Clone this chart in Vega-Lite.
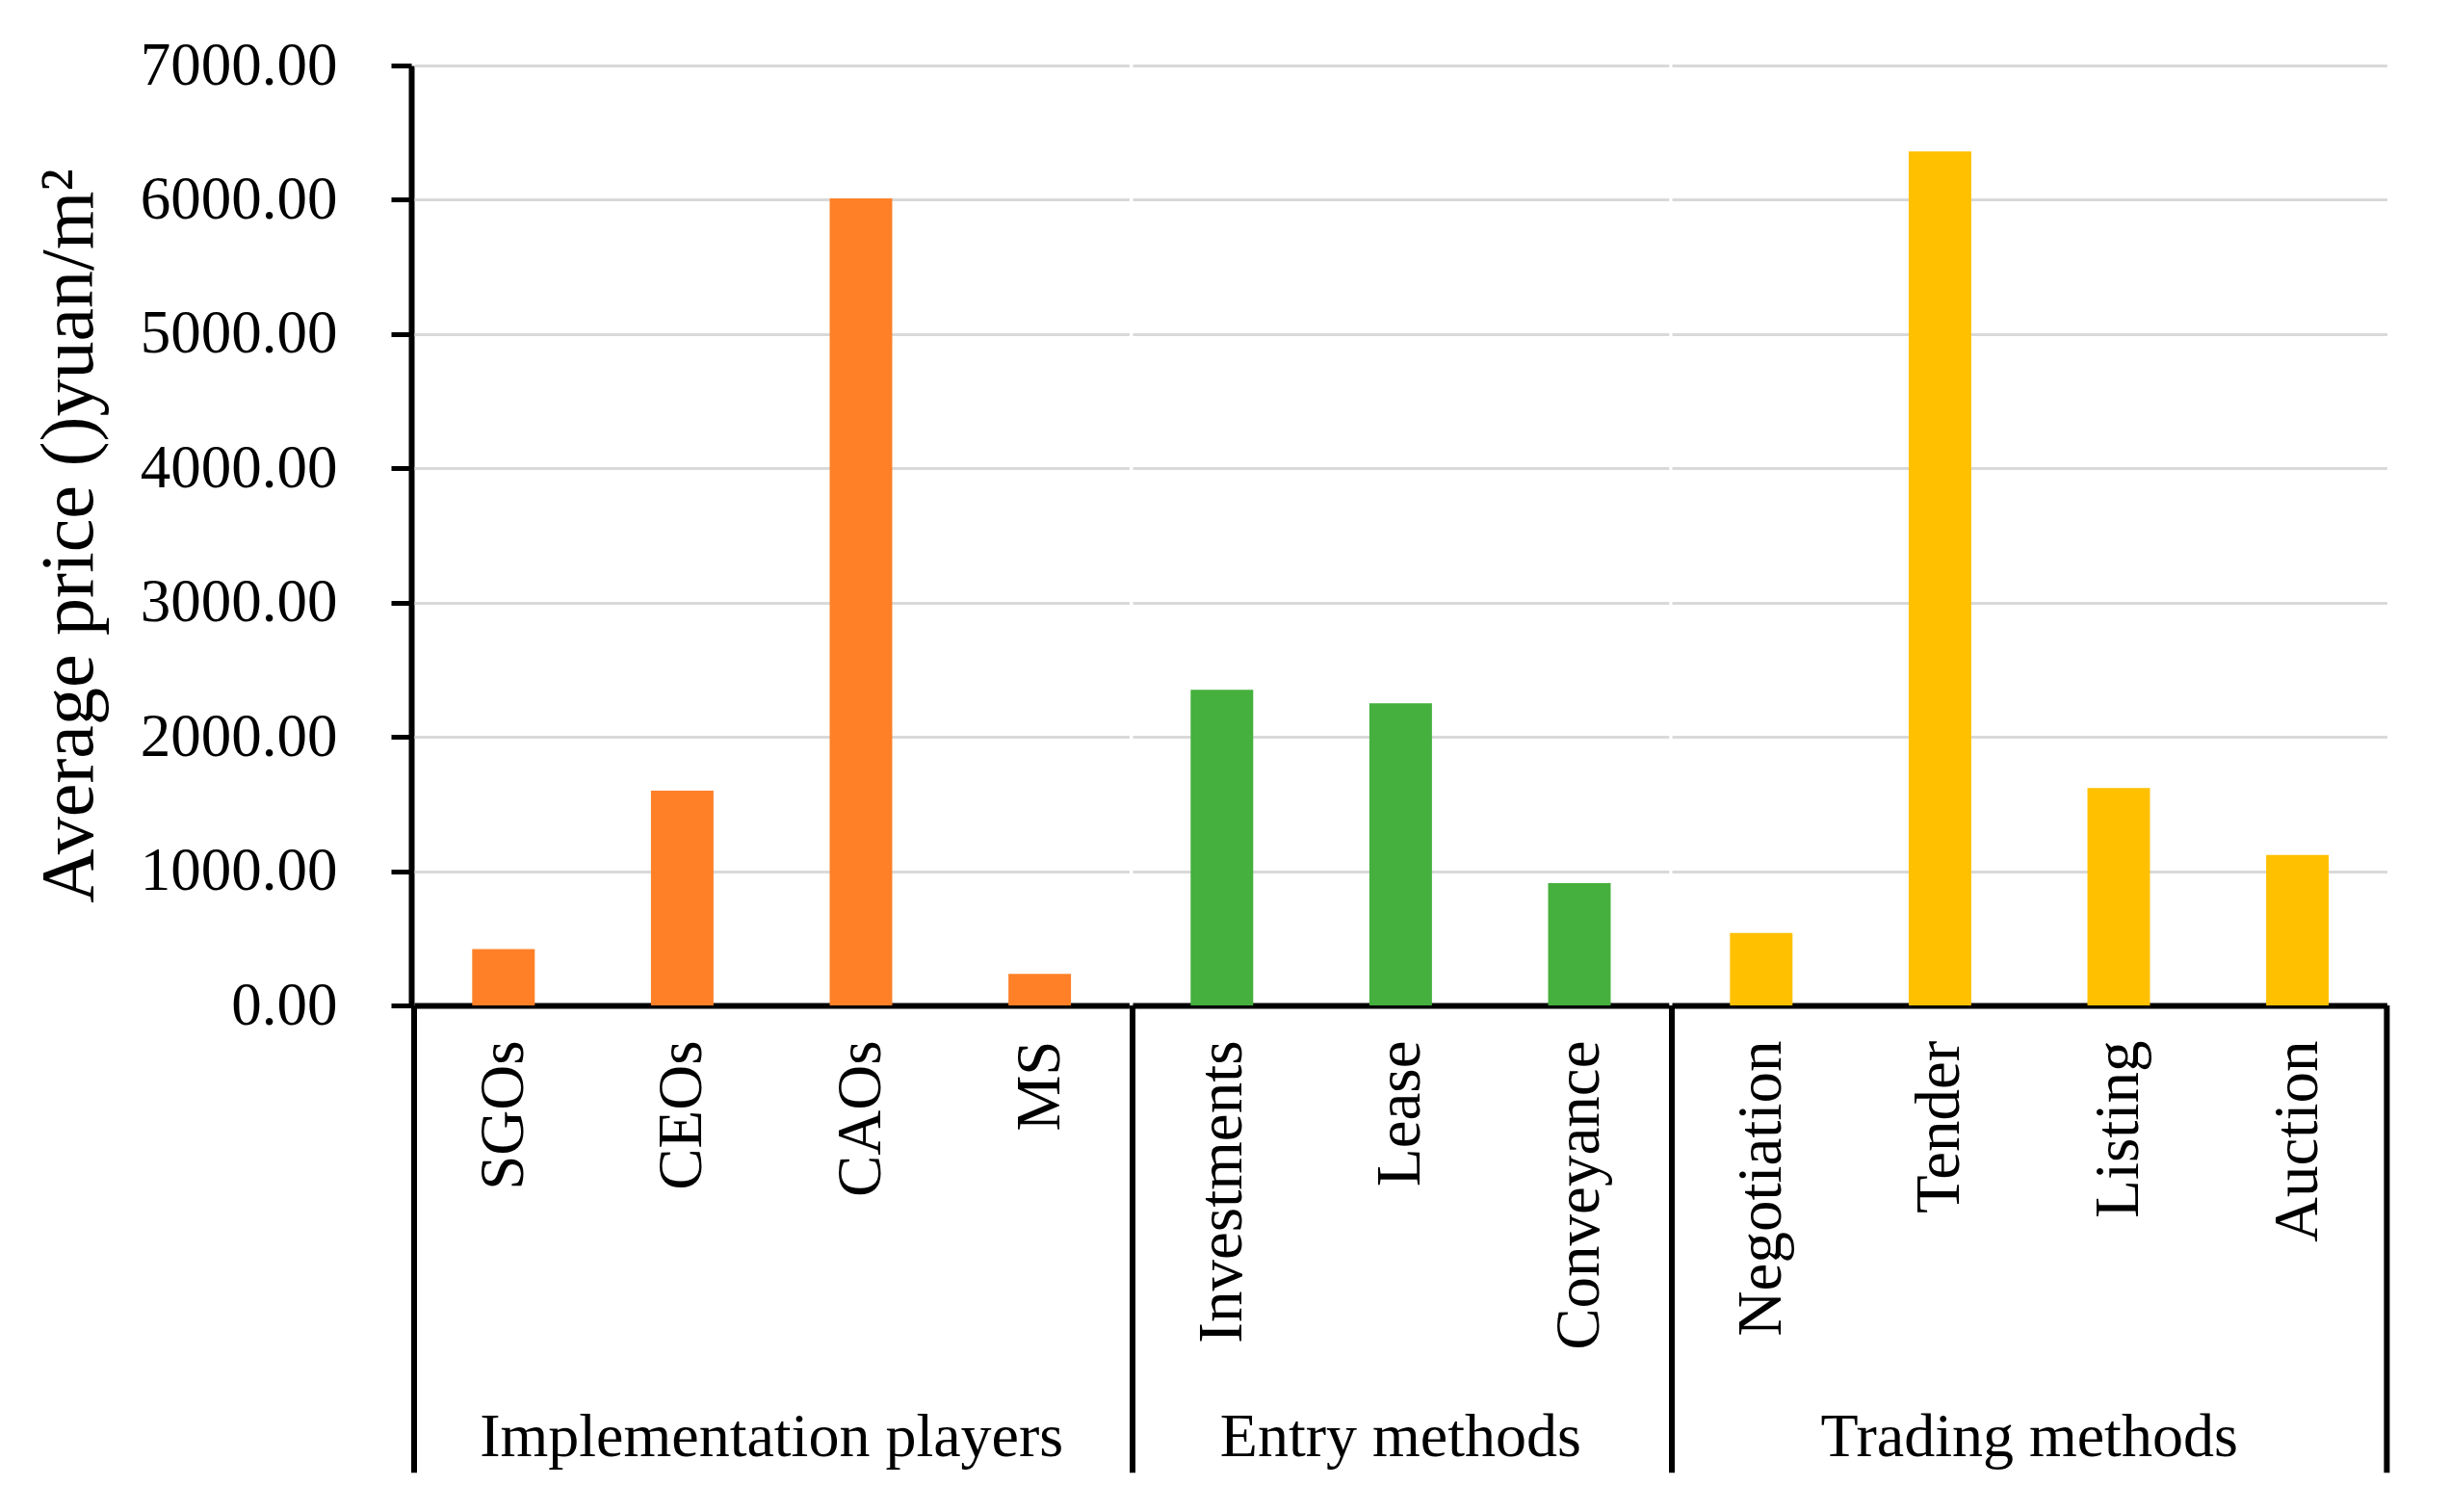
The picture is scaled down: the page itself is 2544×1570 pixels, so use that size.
{
  "$schema": "https://vega.github.io/schema/vega-lite/v6.json",
  "padding": {"left": 33, "top": 37, "right": 10, "bottom": 10},
  "background": "white",
  "data": {
    "values": [
      {"group": "Implementation players", "category": "SGOs", "price": 420},
      {"group": "Implementation players", "category": "CEOs", "price": 1600},
      {"group": "Implementation players", "category": "CAOs", "price": 6010},
      {"group": "Implementation players", "category": "MS", "price": 235},
      {"group": "Entry methods", "category": "Investments", "price": 2350},
      {"group": "Entry methods", "category": "Lease", "price": 2250},
      {"group": "Entry methods", "category": "Conveyance", "price": 910},
      {"group": "Trading methods", "category": "Negotiation", "price": 540},
      {"group": "Trading methods", "category": "Tender", "price": 6360},
      {"group": "Trading methods", "category": "Listing", "price": 1620},
      {"group": "Trading methods", "category": "Auction", "price": 1120}
    ]
  },
  "facet": {
    "column": {
      "field": "group",
      "type": "nominal",
      "sort": ["Implementation players", "Entry methods", "Trading methods"],
      "header": {
        "title": null,
        "labelOrient": "bottom",
        "labelFont": "Liberation Serif",
        "labelFontSize": 64,
        "labelColor": "black",
        "labelPadding": -72
      }
    }
  },
  "spacing": 0,
  "resolve": {"scale": {"x": "independent"}},
  "spec": {
    "width": {"step": 185.6},
    "height": 976,
    "layer": [
      {
        "mark": {"type": "bar", "width": {"band": 0.35}},
        "encoding": {
          "x": {
            "field": "category",
            "type": "nominal",
            "sort": ["SGOs", "CEOs", "CAOs", "MS", "Investments", "Lease", "Conveyance", "Negotiation", "Tender", "Listing", "Auction"],
            "scale": {"paddingInner": 0, "paddingOuter": 0},
            "title": null,
            "axis": {
              "labelAngle": -90,
              "labelFont": "Liberation Serif",
              "labelFontSize": 65,
              "labelColor": "black",
              "labelPadding": 36,
              "labelLimit": 1000,
              "ticks": false,
              "domainColor": "black",
              "domainWidth": 6
            }
          },
          "y": {
            "field": "price",
            "type": "quantitative",
            "title": "Average price ()yuan/m²",
            "scale": {"domain": [0, 7000], "nice": false},
            "axis": {
              "values": [0, 1000, 2000, 3000, 4000, 5000, 6000, 7000],
              "format": ".2f",
              "labelFont": "Liberation Serif",
              "labelFontSize": 63,
              "labelColor": "black",
              "labelPadding": 56,
              "labelLimit": 1000,
              "tickColor": "black",
              "tickWidth": 5,
              "tickSize": 21,
              "domainColor": "black",
              "domainWidth": 6,
              "gridColor": "#D9D9D9",
              "gridWidth": 3,
              "titleFont": "Liberation Serif",
              "titleFontSize": 78,
              "titleFontWeight": "normal",
              "titleColor": "black",
              "titlePadding": 116
            }
          },
          "color": {
            "field": "group",
            "type": "nominal",
            "scale": {
              "domain": ["Implementation players", "Entry methods", "Trading methods"],
              "range": ["#FF8027", "#45B03D", "#FFC000"]
            },
            "legend": null
          }
        }
      },
      {
        "transform": [{"filter": {"field": "category", "oneOf": ["SGOs", "Investments", "Negotiation"]}}],
        "mark": {"type": "rule", "color": "black", "strokeWidth": 6},
        "encoding": {
          "x": {
            "field": "category",
            "type": "nominal",
            "bandPosition": 0,
            "sort": ["SGOs", "CEOs", "CAOs", "MS", "Investments", "Lease", "Conveyance", "Negotiation", "Tender", "Listing", "Auction"],
            "title": null
          },
          "y": {"datum": 0, "title": "Average price ()yuan/m²"},
          "y2": {"datum": -3480}
        }
      },
      {
        "transform": [{"filter": {"field": "category", "equal": "Auction"}}],
        "mark": {"type": "rule", "color": "black", "strokeWidth": 6},
        "encoding": {
          "x": {
            "field": "category",
            "type": "nominal",
            "bandPosition": 1,
            "sort": ["SGOs", "CEOs", "CAOs", "MS", "Investments", "Lease", "Conveyance", "Negotiation", "Tender", "Listing", "Auction"],
            "title": null
          },
          "y": {"datum": 0, "title": "Average price ()yuan/m²"},
          "y2": {"datum": -3480}
        }
      }
    ]
  },
  "config": {
    "view": {"stroke": null},
    "font": "Liberation Serif"
  }
}
